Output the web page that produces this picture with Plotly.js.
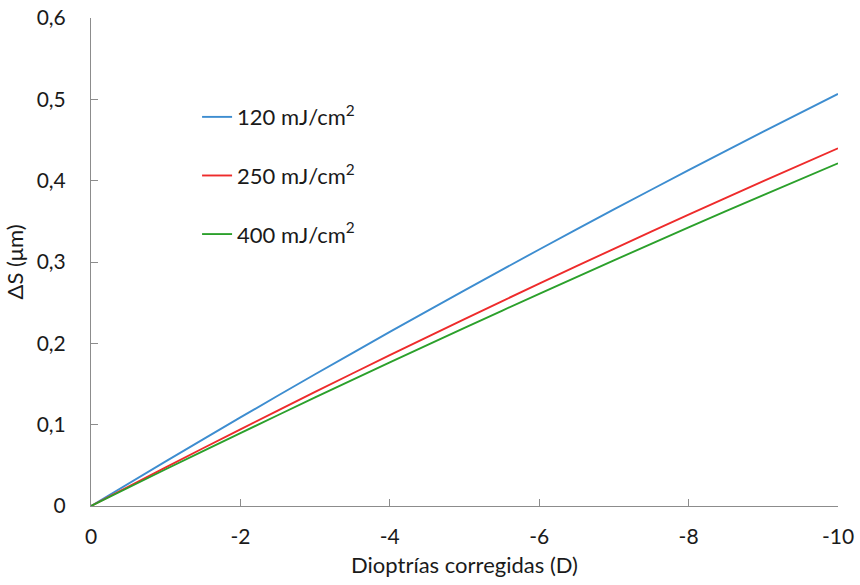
<!DOCTYPE html>
<html>
<head>
<meta charset="utf-8">
<script src="https://cdn.plot.ly/plotly-3.0.1.min.js"></script>
<style>html,body{margin:0;padding:0;background:#fff;}#chart{width:860px;height:585px;}</style>
</head>
<body>
<div id="chart"></div>
<script>
const diopters = [0, -1, -2, -3, -4, -5, -6, -7, -8, -9, -10];
const s120 = [0, 0.0549, 0.1089, 0.1620, 0.2140, 0.2652, 0.3154, 0.3646, 0.4129, 0.4603, 0.5067];
const s250 = [0, 0.0476, 0.0943, 0.1403, 0.1854, 0.2298, 0.2734, 0.3162, 0.3582, 0.3994, 0.4398];
const s400 = [0, 0.0452, 0.0896, 0.1335, 0.1766, 0.2191, 0.2609, 0.3020, 0.3425, 0.3823, 0.4214];
const seriesNames = ['120 mJ/cm<sup>2</sup>', '250 mJ/cm<sup>2</sup>', '400 mJ/cm<sup>2</sup>'];
const xTickVals = [0, -2, -4, -6, -8, -10];
const xTickText = ['0', '-2', '-4', '-6', '-8', '-10'];
const yTickVals = [0, 0.1, 0.2, 0.3, 0.4, 0.5, 0.6];
const yTickText = ['0', '0,1', '0,2', '0,3', '0,4', '0,5', '0,6'];
const colors = ['#3d8dd0', '#ee2b2b', '#2ba02b'];

const allSeries = [s120, s250, s400];
const traces = allSeries.map((ys, i) => ({
  x: diopters, y: ys, type: 'scatter', mode: 'lines',
  name: seriesNames[i], legendgroup: 'g' + i,
  line: {color: colors[i], width: 1.9, shape: 'spline', smoothing: 0.6}
}));

const fam = 'Lato, "Open Sans", sans-serif';
const txt = '#1a1a1a';
const axisColor = '#8c8c8c';
const layout = {
  width: 860, height: 585,
  margin: {l: 91, r: 22, t: 18, b: 79, pad: 0},
  paper_bgcolor: '#fff', plot_bgcolor: '#fff',
  font: {family: fam, size: 21, color: txt},
  showlegend: true,
  legend: {x: 0.142, xanchor: 'left', y: 0.84, yanchor: 'top',
           font: {family: fam, size: 22, color: txt},
           tracegroupgap: 27, bgcolor: 'rgba(0,0,0,0)'},
  xaxis: {
    range: [0, -10], tickmode: 'array', tickvals: xTickVals, ticktext: xTickText,
    tickfont: {family: fam, size: 21, color: txt},
    showgrid: false, zeroline: false, showline: true, linecolor: axisColor, linewidth: 1,
    ticks: 'inside', ticklen: 7, tickcolor: axisColor, tickwidth: 1,
    ticklabelstandoff: 12,
    title: {text: 'Dioptrías corregidas (D)', font: {family: fam, size: 22, color: txt}, standoff: 10}
  },
  yaxis: {
    range: [0, 0.6], tickmode: 'array', tickvals: yTickVals, ticktext: yTickText,
    tickfont: {family: fam, size: 21, color: txt},
    showgrid: false, zeroline: false, showline: true, linecolor: axisColor, linewidth: 1,
    ticks: 'inside', ticklen: 7, tickcolor: axisColor, tickwidth: 1,
    ticklabelstandoff: 20,
    title: {text: 'ΔS (μm)', font: {family: fam, size: 22, color: txt}, standoff: 6}
  }
};
Plotly.newPlot('chart', traces, layout, {staticPlot: true, displayModeBar: false});
</script>
</body>
</html>
